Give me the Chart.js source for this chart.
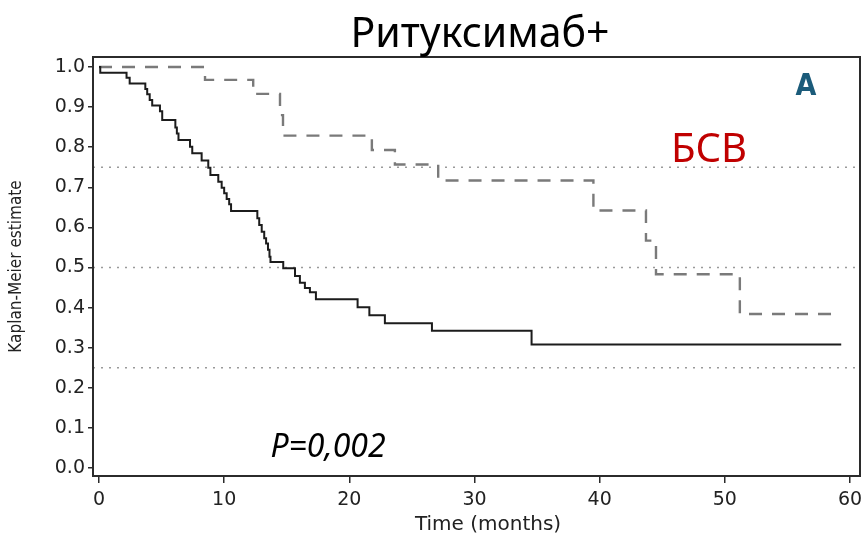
<!DOCTYPE html>
<html lang="ru">
<head>
<meta charset="utf-8">
<title>Ритуксимаб+</title>
<script src="https://cdn.jsdelivr.net/npm/chart.js@4.4.1/dist/chart.umd.min.js"></script>
<style>
    html, body { margin: 0; padding: 0; background: #ffffff; }
    #wrap { width: 862px; height: 538px; }
</style>
</head>
<body>
<div id="wrap"><canvas id="kmChart" width="862" height="538"></canvas></div>
<script>
// Кривая Каплана-Мейера, сплошная линия (время в месяцах / оценка выживаемости)
const solidTimes = [0, 0.1, 2.2, 2.45, 3.7, 3.85, 4.05, 4.25, 4.87, 5.05, 6.1, 6.22, 6.35, 7.27, 7.45,
    8.2, 8.73, 8.9, 9.53, 9.8, 10.0, 10.2, 10.4, 10.55, 12.65, 12.8, 13.0, 13.2, 13.35, 13.5, 13.62,
    13.7, 14.72, 15.66, 16.05, 16.45, 16.85, 17.33, 20.66, 21.6, 22.84, 26.6, 34.56, 59.3];
const solidSurv = [1.0, 0.986, 0.973, 0.959, 0.945, 0.932, 0.918, 0.904, 0.890, 0.868, 0.849, 0.834, 0.818, 0.801, 0.785,
    0.767, 0.749, 0.731, 0.714, 0.699, 0.685, 0.671, 0.658, 0.641, 0.623, 0.606, 0.589, 0.573, 0.560, 0.544, 0.527,
    0.514, 0.498, 0.479, 0.462, 0.449, 0.438, 0.421, 0.401, 0.381, 0.361, 0.342, 0.308, 0.308];

// Кривая БСВ, пунктир
const dashTimes = [0, 8.47, 12.32, 14.46, 14.7, 21.8, 23.64, 27.1, 39.5, 43.7, 44.5, 51.2, 58.5];
const dashSurv = [1.0, 0.968, 0.933, 0.88, 0.829, 0.793, 0.757, 0.717, 0.642, 0.567, 0.483, 0.384, 0.384];

// Уровни 25/50/75% (точечные линии)
const refLevels = [0.25, 0.5, 0.75];

const xTicks = [0, 10, 20, 30, 40, 50, 60];
const yTicks = [0, 0.1, 0.2, 0.3, 0.4, 0.5, 0.6, 0.7, 0.8, 0.9, 1.0];

const xMin = -0.48, xMax = 60.8;
const yMin = -0.02, yMax = 1.025;

const tickFont = { family: "'DejaVu Sans', sans-serif", size: 19 };
const axisColor = '#2b2b2b';

function toPoints(xs, ys) {
    return xs.map((x, i) => ({ x: x, y: ys[i] }));
}

const refDatasets = refLevels.map(level => ({
    data: [{ x: xMin, y: level }, { x: xMax, y: level }],
    borderColor: '#9a9a9a',
    borderWidth: 1.6,
    borderDash: [2, 6],
    pointRadius: 0,
    fill: false
}));

// Рамка, заголовок и подписи поверх графика
const annotations = {
    id: 'annotations',
    afterDraw(chart) {
        const { ctx, chartArea } = chart;
        ctx.save();
        ctx.strokeStyle = axisColor;
        ctx.lineWidth = 2;
        ctx.strokeRect(chartArea.left, chartArea.top, chartArea.right - chartArea.left, chartArea.bottom - chartArea.top);

        ctx.textAlign = 'center';
        ctx.textBaseline = 'alphabetic';

        ctx.fillStyle = '#000000';
        ctx.font = "41px 'Noto Sans', sans-serif";
        ctx.fillText('Ритуксимаб+', 480, 47);

        ctx.fillStyle = '#c00000';
        ctx.font = "40px 'Noto Sans', sans-serif";
        ctx.fillText('БСВ', 709, 162);

        ctx.fillStyle = '#1b5b7a';
        ctx.font = "bold 30px 'DejaVu Sans Condensed', sans-serif";
        ctx.fillText('A', 806, 95);

        ctx.fillStyle = '#000000';
        ctx.font = "italic 32px 'Noto Sans', sans-serif";
        ctx.fillText('P=0,002', 328, 457);

        ctx.fillStyle = '#222222';
        ctx.font = "20px 'DejaVu Sans', sans-serif";
        ctx.fillText('Time (months)', 488, 530);
        ctx.restore();
    }
};

new Chart(document.getElementById('kmChart'), {
    type: 'line',
    data: {
        datasets: [
            {
                data: toPoints(solidTimes, solidSurv),
                borderColor: '#1c1c1c',
                borderWidth: 2,
                stepped: 'before',
                pointRadius: 0,
                fill: false
            },
            {
                data: toPoints(dashTimes, dashSurv),
                borderColor: '#7a7a7a',
                borderWidth: 2.4,
                borderDash: [13, 10],
                stepped: 'before',
                pointRadius: 0,
                fill: false
            },
            ...refDatasets
        ]
    },
    options: {
        responsive: false,
        animation: false,
        layout: { padding: { top: 57, right: 2, left: 0, bottom: 0 } },
        plugins: {
            legend: { display: false },
            tooltip: { enabled: false }
        },
        scales: {
            x: {
                type: 'linear',
                min: xMin,
                max: xMax,
                afterBuildTicks: scale => { scale.ticks = xTicks.map(v => ({ value: v })); },
                afterFit: scale => {
                    scale.height = 62;
                    scale.paddingLeft = 0;
                    scale.paddingRight = 0;
                },
                ticks: { font: tickFont, color: '#222222', padding: 6, maxRotation: 0 },
                grid: { drawOnChartArea: false, tickLength: 7, color: axisColor, lineWidth: 1.5 },
                border: { display: true, color: axisColor, width: 2 }
            },
            y: {
                type: 'linear',
                min: yMin,
                max: yMax,
                afterBuildTicks: scale => { scale.ticks = yTicks.map(v => ({ value: v })); },
                afterFit: scale => {
                    scale.width = 93;
                    scale.paddingTop = 0;
                    scale.paddingBottom = 0;
                },
                ticks: {
                    font: tickFont,
                    color: '#222222',
                    padding: 3,
                    callback: value => value.toFixed(1)
                },
                grid: { drawOnChartArea: false, tickLength: 5, color: axisColor, lineWidth: 1.5 },
                border: { display: true, color: axisColor, width: 2 },
                title: {
                    display: true,
                    text: 'Kaplan-Meier estimate',
                    color: '#222222',
                    font: { family: "'DejaVu Sans Condensed', 'Liberation Sans', sans-serif", size: 17 },
                    padding: { top: 6, bottom: 0 }
                }
            }
        }
    },
    plugins: [annotations]
});
</script>
</body>
</html>
